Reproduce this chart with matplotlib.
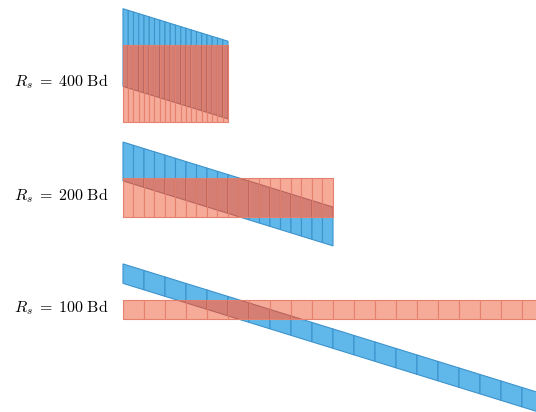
import matplotlib.pyplot as plt
from matplotlib.patches import Polygon, Rectangle
import numpy as np

plt.rcParams['mathtext.fontset'] = 'cm'

# symbol rates of the three rows (Bd), 20 symbols each
baud_rates = [400, 200, 100]
n_symbols = 20
# blue chirp: offset at t=0 above the carrier (Hz) and its sweep rate (Hz per ms)
chirp_start_hz = 185
chirp_rate_hz_per_ms = 3.35
row_labels = [r'$R_s\;=\;%d\ \mathrm{Bd}$' % rs for rs in baud_rates]

# layout: row centres in Hz (drawing coordinates)
row_centres = [0, -587, -1165]

blue_face = '#60b8ea'
blue_edge = '#3d93cc'
red_face = '#f6aa98'
red_edge = '#e4826f'
over_face = '#d47e74'
over_edge = '#b8645e'

fig = plt.figure(figsize=(5.36, 4.12), dpi=100)
ax = fig.add_axes([0, 0, 1, 1])
ax.set_xlim(-58.57, 196.67)
ax.set_ylim(-1693, 430)
ax.axis('off')

for rs, yc, lab in zip(baud_rates, row_centres, row_labels):
    T = 1000.0 / rs      # symbol duration, ms
    B = rs               # occupied bandwidth, Hz
    f = lambda t: yc + chirp_start_hz - chirp_rate_hz_per_ms * t

    band = Rectangle((0, yc - B / 2), n_symbols * T, B, transform=ax.transData)

    for k in range(n_symbols):
        t0, t1 = k * T, (k + 1) * T
        pts = [(t0, f(t0) + B / 2), (t1, f(t1) + B / 2),
               (t1, f(t1) - B / 2), (t0, f(t0) - B / 2)]
        ax.add_patch(Polygon(pts, closed=True, fc=blue_face, ec=blue_edge,
                             lw=0.8, zorder=1))
        ax.add_patch(Rectangle((t0, yc - B / 2), T, B, fc=red_face,
                               ec=red_edge, lw=0.8, zorder=2))
        ov = Polygon(pts, closed=True, fc=over_face, ec=over_edge, lw=0.8,
                     zorder=3)
        ax.add_patch(ov)
        ov.set_clip_path(band)
        ax.add_patch(Rectangle((t0, yc - B / 2), T, B, fc='none',
                               ec=red_edge, lw=0.7, alpha=0.7, zorder=4))

    ax.text(-7, yc + 8, lab, ha='right', va='center', fontsize=11.5)

plt.savefig('out.png', dpi=100)
